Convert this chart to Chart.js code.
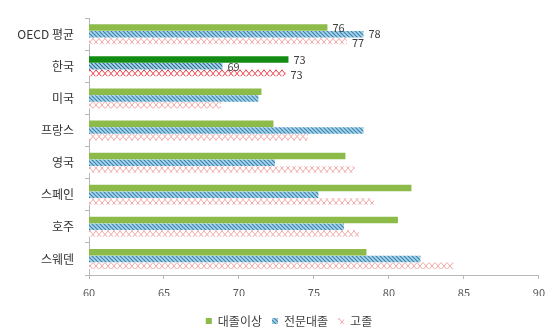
<!DOCTYPE html>
<html>
<head>
<meta charset="utf-8">
<script src="https://cdn.jsdelivr.net/npm/chart.js@4.4.1/dist/chart.umd.min.js"></script>
<style>
  html, body { margin: 0; padding: 0; background: #fff; }
  #wrap { width: 552px; height: 328px; }
</style>
</head>
<body>
<div id="wrap"><canvas id="chart"></canvas></div>
<script>
// categories and series (employment rate, %)
const countries = ["OECD 평균", "한국", "미국", "프랑스", "영국", "스페인", "호주", "스웨덴"];
const seriesNames = ["대졸이상", "전문대졸", "고졸"];
const college = [75.9, 73.3, 71.5, 72.3, 77.1, 81.5, 80.6, 78.5];
const junior = [78.3, 68.9, 71.3, 78.3, 72.4, 75.3, 77.0, 82.1];
const highschool = [77.2, 73.1, 68.8, 74.6, 77.7, 79.0, 78.0, 84.3];
const xTicks = [60, 65, 70, 75, 80, 85, 90];
const labelled = [0, 1]; // categories that carry value labels

const KOREA = 1;
const FONT = "'Noto Sans CJK KR', sans-serif";
const tmp = document.createElement("canvas").getContext("2d");

// diagonal hatch for 전문대졸
function hatch(bg, line) {
  const c = document.createElement("canvas");
  c.width = 4; c.height = 4;
  const g = c.getContext("2d");
  g.fillStyle = bg;
  g.fillRect(0, 0, 4, 4);
  g.strokeStyle = line;
  g.lineWidth = 1.1;
  g.beginPath();
  g.moveTo(-1, -1); g.lineTo(5, 5);
  g.moveTo(-1, 3); g.lineTo(1, 5);
  g.moveTo(3, -1); g.lineTo(5, 1);
  g.stroke();
  return tmp.createPattern(c, "repeat");
}

// zigzag / cross pattern for 고졸
function zigzag(line) {
  const c = document.createElement("canvas");
  c.width = 6; c.height = 7;
  const g = c.getContext("2d");
  g.fillStyle = "#ffffff";
  g.fillRect(0, 0, 6, 7);
  g.strokeStyle = line;
  g.lineWidth = 1;
  g.beginPath();
  g.moveTo(0, 0); g.lineTo(6, 7);
  g.moveTo(0, 7); g.lineTo(6, 0);
  g.stroke();
  return tmp.createPattern(c, "repeat");
}

const blueHatch = hatch("#a8d6ea", "#3b7fae");
const blueHatchKr = hatch("#a8d6ea", "#2f6a92");
const redZig = zigzag("#f3a9a9");
const redZigKr = zigzag("#ec3b45");

const colorsFor = (normal, korea) => countries.map((c, i) => (i === KOREA ? korea : normal));

// value labels next to bar ends
const valueLabels = {
  id: "valueLabels",
  afterDatasetsDraw(chart) {
    const ctx = chart.ctx;
    ctx.save();
    ctx.font = "11px " + FONT;
    ctx.fillStyle = "#404040";
    ctx.textBaseline = "middle";
    chart.data.datasets.forEach((ds, di) => {
      const meta = chart.getDatasetMeta(di);
      labelled.forEach((idx) => {
        const bar = meta.data[idx];
        ctx.fillText(String(Math.round(ds.data[idx])), bar.x + 5, bar.y + (di === 2 ? 2 : 0));
      });
    });
    ctx.restore();
  }
};

// push the legend a little lower and to the right, like the original
const legendShift = {
  id: "legendShift",
  afterLayout(chart) {
    const lg = chart.legend;
    lg.top += 9; lg.bottom += 9;
    lg.left += 18; lg.right += 18;
  }
};

new Chart(document.getElementById("chart"), {
  type: "bar",
  data: {
    labels: countries,
    datasets: [
      {
        label: seriesNames[0],
        data: college,
        backgroundColor: colorsFor("#8cbb4a", "#138c13"),
        borderWidth: 0,
        barPercentage: 0.96,
        categoryPercentage: 0.63
      },
      {
        label: seriesNames[1],
        data: junior,
        backgroundColor: colorsFor(blueHatch, blueHatchKr),
        borderWidth: 0,
        barPercentage: 0.96,
        categoryPercentage: 0.63
      },
      {
        label: seriesNames[2],
        data: highschool,
        backgroundColor: colorsFor(redZig, redZigKr),
        borderWidth: 0,
        barPercentage: 0.96,
        categoryPercentage: 0.63
      }
    ]
  },
  options: {
    indexAxis: "y",
    responsive: true,
    maintainAspectRatio: false,
    animation: false,
    layout: { padding: { top: 5, right: 10, bottom: 0, left: 0 } },
    plugins: {
      tooltip: { enabled: false },
      legend: {
        position: "bottom",
        labels: {
          boxWidth: 6,
          boxHeight: 6,
          padding: 10,
          color: "#404040",
          font: { size: 12, family: FONT }
        }
      }
    },
    scales: {
      x: {
        min: 60,
        max: 90,
        afterBuildTicks: (scale) => {
          scale.ticks = xTicks.map((v) => ({ value: v }));
        },
        afterFit: (scale) => {
          scale.height = 21;
        },
        border: { display: true, color: "#b8b8b8" },
        grid: { drawOnChartArea: false, tickLength: 4, color: "#b8b8b8" },
        ticks: {
          padding: 7,
          color: "#595959",
          font: { size: 11, family: FONT }
        }
      },
      y: {
        afterFit: (scale) => {
          scale.width = 89;
        },
        border: { display: true, color: "#b8b8b8" },
        grid: { drawOnChartArea: false, tickLength: 4, color: "#b8b8b8" },
        ticks: {
          padding: 11,
          color: "#333333",
          font: { size: 12, family: FONT }
        }
      }
    }
  },
  plugins: [valueLabels, legendShift]
});
</script>
</body>
</html>
